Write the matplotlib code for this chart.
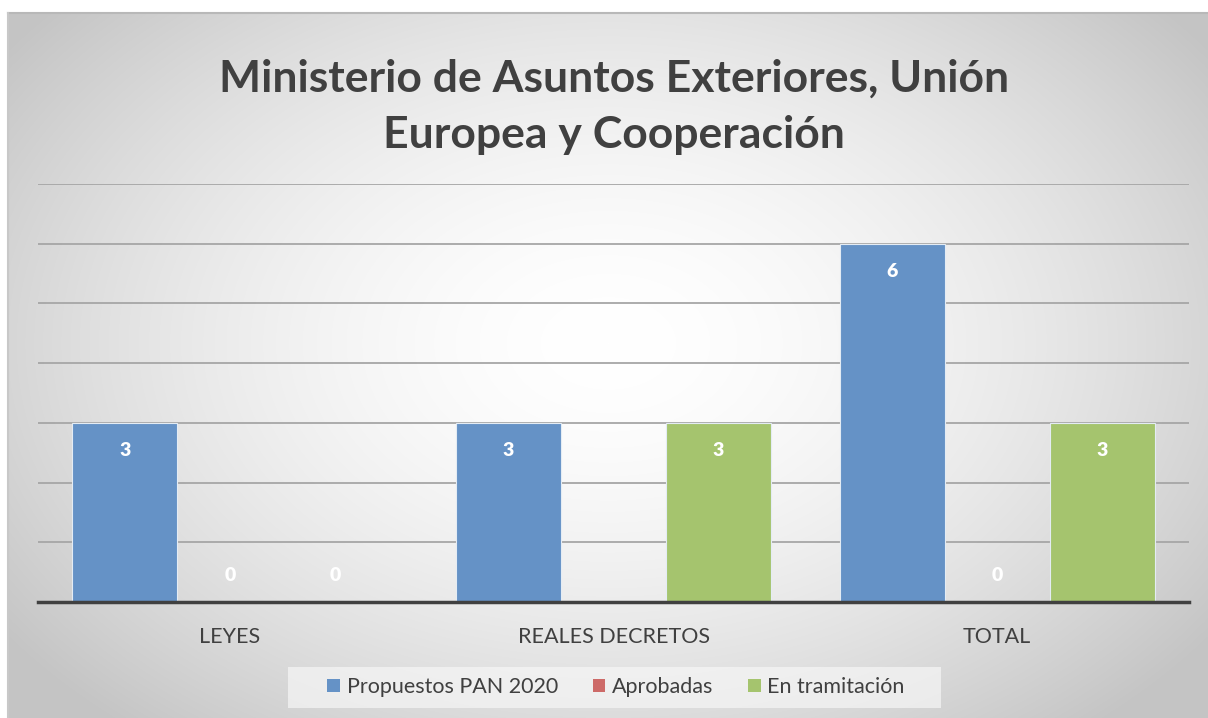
import matplotlib
matplotlib.use("Agg")
import matplotlib.pyplot as plt
import numpy as np
from matplotlib.patches import Patch, Rectangle

categorias = ["LEYES", "REALES DECRETOS", "TOTAL"]
series = ["Propuestos PAN 2020", "Aprobadas", "En tramitación"]
propuestos = [3, 3, 6]
aprobadas = [0, None, 0]
tramitacion = [0, 3, 3]
valores = [propuestos, aprobadas, tramitacion]
colores = ["#6592c6", "#cd6a68", "#a5c46e"]
titulo = "Ministerio de Asuntos Exteriores, Unión\nEuropea y Cooperación"

plt.rcParams["font.family"] = ["Lato", "DejaVu Sans"]
W, H = 1208, 718
fig = plt.figure(figsize=(W / 100, H / 100), dpi=100)
fig.patch.set_facecolor("white")

# fondo con degradado radial
bg = fig.add_axes([8 / W, 0, 1 - 8 / W, 1 - 13 / H])
yy, xx = np.mgrid[0:705, 0:1200]
d = np.sqrt(((xx - 600) / 760) ** 2 + ((yy - 330) / 520) ** 2)
g = np.clip(1 - 0.24 * d ** 1.7, 0.77, 1)
bg.imshow(np.dstack([g, g, g]), aspect="auto", extent=[0, 1, 0, 1])
bg.set_axis_off()
bg.plot([0, 1], [1, 1], color="#b8b8b8", lw=1.5, transform=bg.transAxes, clip_on=False)
bg.plot([0, 0], [0, 1], color="#c8c8c8", lw=1.5, transform=bg.transAxes, clip_on=False)

ax = fig.add_axes([38 / W, (H - 602) / H, (1189 - 38) / W, (602 - 184) / H])
ax.patch.set_alpha(0)
x = np.arange(len(categorias))
w = 0.2737
for i, (nombre, vals, c) in enumerate(zip(series, valores, colores)):
    pos = x + (i - 1) * w
    v = [np.nan if val is None else val for val in vals]
    ax.bar(pos, v, width=w, color=c, edgecolor="#e4ecf4", linewidth=0.8, zorder=3, label=nombre)
    for p, val in zip(pos, vals):
        if val is None:
            continue
        off = -20 if val > 0 else 19
        ax.annotate(str(val), (p, val), xytext=(0, off), textcoords="offset points",
                    ha="center", va="center", color="white", fontsize=14, fontweight="heavy")

ax.set_xlim(-0.5, 2.5)
ax.set_ylim(0, 7)
ax.set_yticks(range(1, 8))
ax.yaxis.grid(True, color="#a6a6a6", lw=1.3, zorder=1)
ax.tick_params(axis="y", left=False, labelleft=False)
ax.tick_params(axis="x", length=0, pad=18, labelsize=15.5, colors="#404040")
ax.set_xticks(x)
ax.set_xticklabels(categorias)
for s in ["top", "right", "left"]:
    ax.spines[s].set_visible(False)
ax.spines["bottom"].set_color("#404040")
ax.spines["bottom"].set_linewidth(2.5)
ax.spines["bottom"].set_zorder(4)

fig.text(614 / W, 1 - 107 / H, titulo, ha="center", va="center", fontsize=32,
         fontweight="bold", color="#404040", linespacing=1.5)

# caja de la leyenda
fig.patches.append(Rectangle((288 / W, 1 - 708 / H), (941 - 288) / W, 41 / H,
                             transform=fig.transFigure, facecolor="#f6f6f6",
                             edgecolor="none", alpha=0.7, zorder=1))
handles = [Patch(facecolor=c, edgecolor="none") for c in colores]
leg = fig.legend(handles, series, loc="center", bbox_to_anchor=(616 / W, 1 - 687 / H), ncol=3,
                 frameon=False, fontsize=15.5, handlelength=0.6, handleheight=0.6,
                 handletextpad=0.3, columnspacing=1.6, borderpad=0.2)
for t in leg.get_texts():
    t.set_color("#404040")

fig.savefig("out.png", dpi=100)
